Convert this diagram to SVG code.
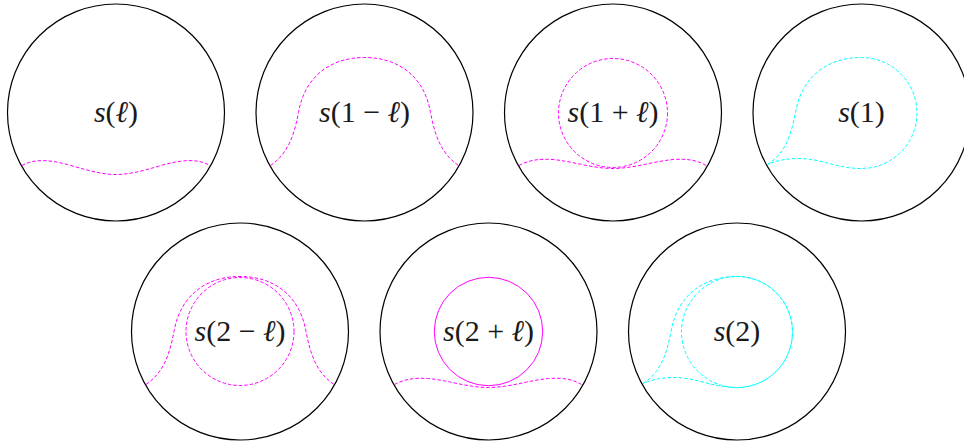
<svg xmlns="http://www.w3.org/2000/svg" xmlns:xlink="http://www.w3.org/1999/xlink" width="964" height="441" viewBox="0 0 964 441">
<style>
.disk{fill:none;stroke:#000;stroke-width:1.2}
.m{fill:none;stroke:#ff00ff;stroke-width:1}
.c{fill:none;stroke:#00ffff;stroke-width:1}
.d{stroke-dasharray:3.5 2}
.lbl{font-size:30px;fill:#1a1a1a;text-anchor:middle}
.i{font-style:italic}
</style>
<defs>
<path id="wave1" d="M -94,53 C -82,46 -66,47 -45,53 C -25,59 -12,62 0,62 C 12,62 25,59 45,53 C 66,47 82,46 94,53"/>
<path id="wave2" d="M -94,53 C -85,48 -75,46 -60,47 C -40,49 -20,56 0,56 C 20,56 40,49 60,47 C 75,46 85,48 93,53"/>
<path id="bell" d="M -94,53 C -75,40 -70,20 -66,0 C -60,-35 -35,-55 0,-55 C 35,-55 60,-35 66,0 C 70,20 75,40 94,53"/>
<path id="tear" d="M -94,52 C -75,40 -70,20 -66,0 C -60,-35 -35,-55 0,-55 A 55.5,55.5 0 0 1 0,56 C -25,56 -40,46 -63,46 C -75,46 -85,48 -94,52"/>
</defs>
<g id="connectors"/>
<g font-family="Liberation Serif, DejaVu Serif, serif">
<g id="n1" transform="translate(116,112.5)">
<circle class="disk" r="108.5"/>
<use xlink:href="#wave1" class="m d"/>
<text class="lbl" y="9.5"><tspan class="i">s</tspan>(<tspan class="i">ℓ</tspan>)</text>
</g>
<g id="n2" transform="translate(364.5,112.5)">
<circle class="disk" r="108.5"/>
<use xlink:href="#bell" class="m d"/>
<text class="lbl" y="9.5"><tspan class="i">s</tspan>(1 − <tspan class="i">ℓ</tspan>)</text>
</g>
<g id="n3" transform="translate(613,112.5)">
<circle class="disk" r="108.5"/>
<circle class="m d" cx="0" cy="0.5" r="54.5"/>
<use xlink:href="#wave2" class="m d"/>
<text class="lbl" y="9.5"><tspan class="i">s</tspan>(1 + <tspan class="i">ℓ</tspan>)</text>
</g>
<g id="n4" transform="translate(861.5,112.5)">
<circle class="disk" r="108.5"/>
<use xlink:href="#tear" class="c d"/>
<text class="lbl" y="9.5"><tspan class="i">s</tspan>(1)</text>
</g>
<g id="n5" transform="translate(240,331.5)">
<circle class="disk" r="108.5"/>
<circle class="m d" cx="0" cy="0" r="54"/>
<use xlink:href="#bell" class="m d"/>
<text class="lbl" y="9.5"><tspan class="i">s</tspan>(2 − <tspan class="i">ℓ</tspan>)</text>
</g>
<g id="n6" transform="translate(488.5,331.5)">
<circle class="disk" r="108.5"/>
<circle class="m" cx="0" cy="0" r="54.2"/>
<use xlink:href="#wave2" class="m d"/>
<text class="lbl" y="9.5"><tspan class="i">s</tspan>(2 + <tspan class="i">ℓ</tspan>)</text>
</g>
<g id="n7" transform="translate(737,331.5)">
<circle class="disk" r="108.5"/>
<circle class="c d" cx="0" cy="0.5" r="55.5" style="stroke-dashoffset:2.75"/>
<use xlink:href="#tear" class="c d"/>
<text class="lbl" y="9.5"><tspan class="i">s</tspan>(2)</text>
</g>
</g>
</svg>
